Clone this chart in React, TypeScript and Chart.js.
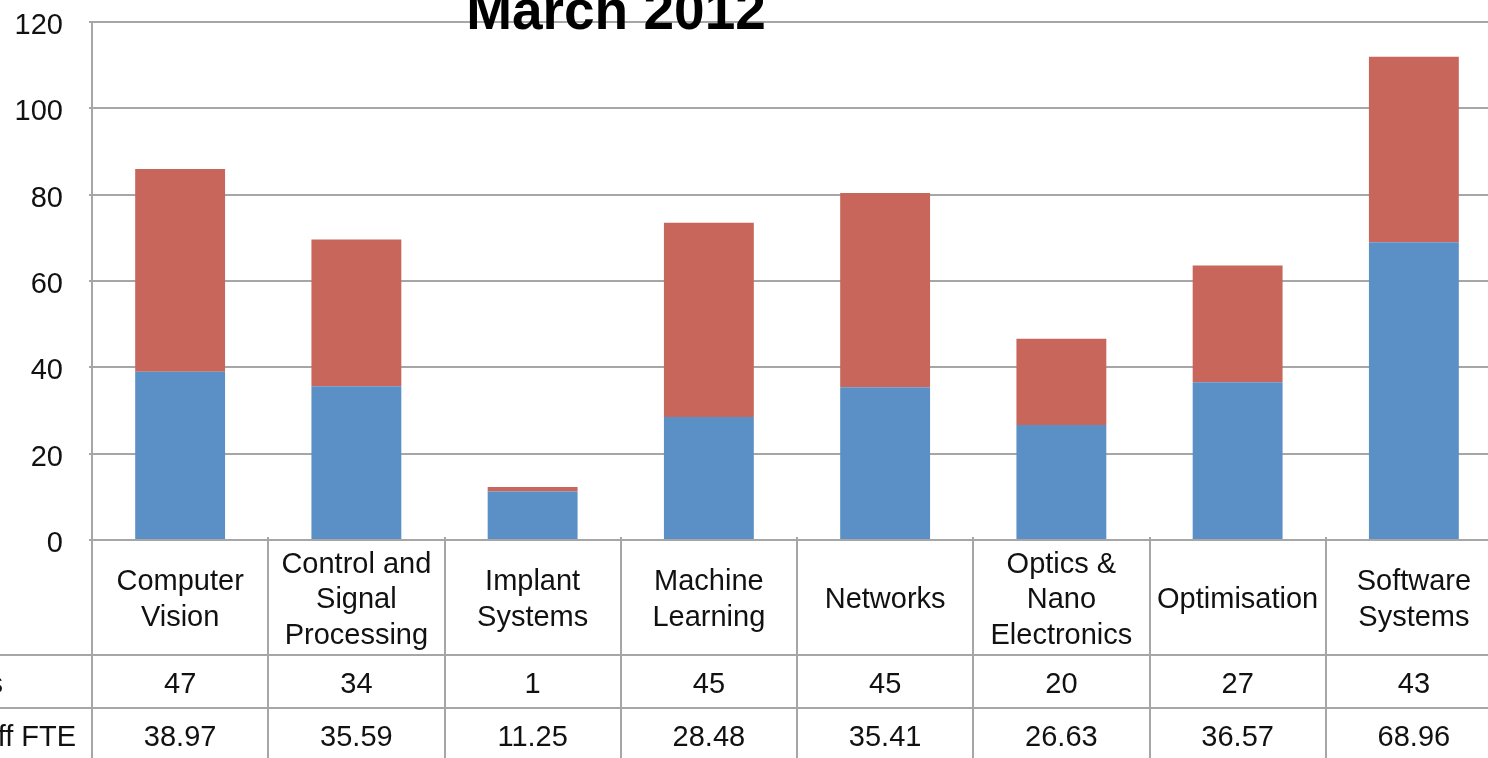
import React, { useEffect, useRef } from "react";
import { Chart, registerables } from "chart.js";

Chart.register(...registerables);

// ---- Data ----
const categoryLines: string[][] = [
  ["Computer", "Vision"],
  ["Control and", "Signal", "Processing"],
  ["Implant", "Systems"],
  ["Machine", "Learning"],
  ["Networks"],
  ["Optics &", "Nano", "Electronics"],
  ["Optimisation"],
  ["Software", "Systems"],
];
const categories: string[] = categoryLines.map((l) => l.join(" "));

const studentCounts: number[] = [47, 34, 1, 45, 45, 20, 27, 43];
const staffFte: number[] = [38.97, 35.59, 11.25, 28.48, 35.41, 26.63, 36.57, 68.96];
const staffFteLabels: string[] = ["38.97", "35.59", "11.25", "28.48", "35.41", "26.63", "36.57", "68.96"];

const seriesNames: string[] = ["PhD Students", "Research Staff FTE"];
const titleText = "March 2012";
const yMin = 0;
const yMax = 120;
const yStep = 20;

// ---- Style ----
const FONT = '"Liberation Sans", Arial, Helvetica, sans-serif';
const GRID = "#A6A6A6";
const BLUE = "#5B90C6";
const RED = "#C8665B";
const TEXT = "#111111";

const tablePlugin = {
  id: "dataTable",
  afterDraw(chart: any) {
    const { ctx, chartArea, scales } = chart;
    const xs = scales.x;
    const n = chart.data.labels.length;
    const catW = (chartArea.right - chartArea.left) / n;
    const top = chartArea.bottom;
    const row1 = top + 115;
    const row2 = row1 + 53;
    const bottom = chart.height;
    ctx.save();
    ctx.strokeStyle = GRID;
    ctx.lineWidth = 2;
    ctx.beginPath();
    for (let i = 0; i <= n; i++) {
      const xx = Math.round(chartArea.left + i * catW);
      ctx.moveTo(xx, top - 3);
      ctx.lineTo(xx, bottom);
    }
    ctx.moveTo(0, row1);
    ctx.lineTo(chartArea.right, row1);
    ctx.moveTo(0, row2);
    ctx.lineTo(chartArea.right, row2);
    ctx.stroke();

    ctx.fillStyle = TEXT;
    ctx.font = `29px ${FONT}`;
    ctx.textAlign = "center";
    ctx.textBaseline = "middle";
    const lh = 35.5;
    categoryLines.forEach((lines, i) => {
      const cx = xs.getPixelForValue(i);
      const start = top + 60 - ((lines.length - 1) * lh) / 2;
      lines.forEach((t, j) => ctx.fillText(t, cx, start + j * lh));
    });
    studentCounts.forEach((v, i) => {
      ctx.fillText(String(v), xs.getPixelForValue(i), row1 + 29.5);
    });
    staffFteLabels.forEach((v, i) => {
      ctx.fillText(v, xs.getPixelForValue(i), row2 + 30);
    });
    // row headers
    ctx.textAlign = "left";
    ctx.fillText(seriesNames[0], 94, row1 + 29.5);
    ctx.fillText(seriesNames[1], 92, row2 + 30);
    ctx.restore();
  },
};

const CANVAS_W = 1782;
const CANVAS_H = 770;

function StackedChart() {
  const ref = useRef<HTMLCanvasElement | null>(null);
  useEffect(() => {
    if (!ref.current) return;
    const chart = new Chart(ref.current, {
      type: "bar",
      data: {
        labels: categories,
        datasets: [
          {
            label: seriesNames[1],
            data: staffFte,
            backgroundColor: BLUE,
            borderWidth: 0,
            barPercentage: 0.51,
            categoryPercentage: 1,
          },
          {
            label: seriesNames[0],
            data: studentCounts,
            backgroundColor: RED,
            borderWidth: 0,
            barPercentage: 0.51,
            categoryPercentage: 1,
          },
        ],
      },
      options: {
        responsive: false,
        animation: false,
        devicePixelRatio: 1,
        layout: { padding: { left: 0, right: 10, top: 0, bottom: 0 } },
        plugins: {
          legend: { display: false },
          tooltip: { enabled: false },
          title: {
            display: true,
            text: titleText,
            color: "#000",
            font: { family: FONT, size: 55, weight: "bold", lineHeight: 0.28 },
            padding: { top: 6.6, bottom: 0 },
          },
        },
        scales: {
          x: {
            stacked: true,
            grid: { display: false },
            ticks: { display: false },
            border: { display: true, color: GRID, width: 2 },
            afterFit: (s: any) => {
              s.height = 230;
              s.paddingLeft = 0;
              s.paddingRight = 0;
            },
          },
          y: {
            stacked: true,
            min: yMin,
            max: yMax,
            ticks: {
              stepSize: yStep,
              color: TEXT,
              font: { family: FONT, size: 29 },
              padding: 26,
              labelOffset: 4,
            },
            grid: { color: GRID, lineWidth: 2, tickLength: 3 },
            border: { display: true, color: GRID, width: 2 },
            afterFit: (s: any) => {
              s.width = 362;
              s.paddingTop = 0;
              s.paddingBottom = 0;
            },
          },
        },
      },
      plugins: [tablePlugin],
    });
    return () => chart.destroy();
  }, []);
  return (
    <canvas
      ref={ref}
      width={CANVAS_W}
      height={CANVAS_H}
      style={{ position: "absolute", left: -270, top: 0, width: CANVAS_W, height: CANVAS_H }}
    />
  );
}

export default function App() {
  return (
    <div
      style={{
        position: "fixed",
        left: 0,
        top: 0,
        width: 1488,
        height: 758,
        overflow: "hidden",
        background: "#fff",
      }}
    >
      <StackedChart />
    </div>
  );
}
